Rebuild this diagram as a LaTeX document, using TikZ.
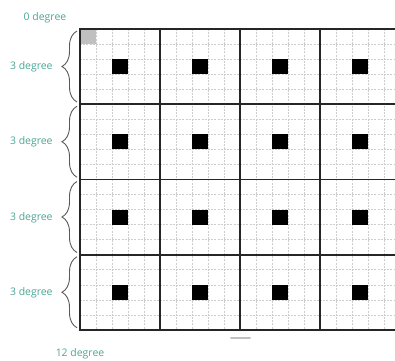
\documentclass[tikz,border=0pt]{standalone}
\usepackage{fontspec}
\setmainfont{Open Sans}
\usepackage{tikz}
\usetikzlibrary{positioning,decorations.pathreplacing}
\definecolor{degteal}{RGB}{72,166,150}
\definecolor{gridgray}{RGB}{205,205,205}
\definecolor{cellgray}{RGB}{192,192,192}

\begin{document}
\begin{tikzpicture}[x=1bp, y=-1bp, thick]
  \tikzstyle{deglabel} = [text=degteal, font=\fontsize{10.5}{12}\selectfont, inner sep=0pt]
  \tikzstyle{fine} = [draw=gridgray, line width=0.7bp, dash pattern=on 2bp off 1.2bp]
  \tikzstyle{coarse} = [draw=black!85, line width=1.8bp]
  \tikzstyle{sqbox} = [rectangle, fill=black, inner sep=0pt, minimum width=16bp, minimum height=15bp]
  \tikzstyle{degbrace} = [draw=black!65, line width=0.9bp, decorate, decoration={brace, amplitude=15bp}]

  \useasboundingbox (0,0) rectangle (395,361);

  \begin{scope}
    \clip (0,0) rectangle (395,361);
    % fine grid
    \foreach \i in {0,...,20}
      \draw[fine] (80+16*\i,29) -- (80+16*\i,330);
    \foreach \j in {0,...,20}
      \draw[fine] (80,29+15.05*\j) -- (395,29+15.05*\j);
    % origin cell
    \fill[cellgray] (80,29) rectangle (96,44.05);
    % centre cells
    \foreach \c in {0,...,3}
      \foreach \r in {0,...,3}
        \node[sqbox] (sq-\c-\r) at (120+80*\c,66.6+75.25*\r) {};
    % coarse grid
    \foreach \c in {0,...,3}
      \draw[coarse] (80+80*\c,29) -- (80+80*\c,330);
    \foreach \r in {0,...,4}
      \draw[coarse] (79.1,29+75.25*\r) -- (395,29+75.25*\r);
  \end{scope}

  % braces and row labels
  \foreach \r in {0,...,3} {
    \coordinate (bot-\r) at (77,102+75.25*\r);
    \coordinate (top-\r) at (77,31+75.25*\r);
    \draw[degbrace] (bot-\r) -- (top-\r);
    \node[deglabel, anchor=east] (row-\r) at (53,67+75.25*\r) {3 degree};
  }

  \node[deglabel] (start) at (45,18) {0 degree};
  \node[deglabel] (total) at (80,354) {12 degree};

  % handle
  \draw[cellgray, line width=2bp, line cap=round] (231,338) -- (250,338);
\end{tikzpicture}
\end{document}
